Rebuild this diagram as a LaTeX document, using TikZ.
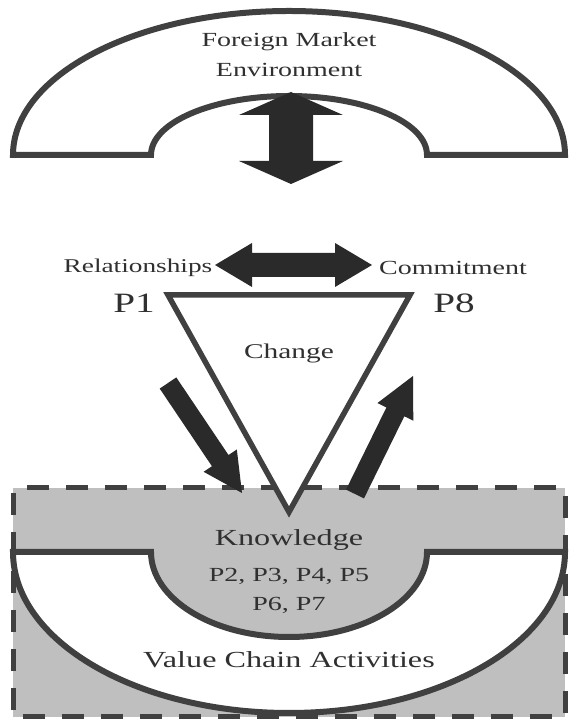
\documentclass[tikz,border=0pt]{standalone}
\usepackage{fontspec}
\usetikzlibrary{calc}
\newfontfamily\deco[FakeStretch=1.4]{Liberation Serif}

\definecolor{outline}{HTML}{404040}
\definecolor{arrowfill}{HTML}{2A2A2A}
\definecolor{panel}{HTML}{BFBFBF}
\definecolor{ink}{HTML}{303030}

% block arrow from tail #1 to tip #2: shaft half-width #3, head length #4, head half-width #5
\newcommand{\blockarrow}[5]{%
  \fill[arrowfill]
    ($(#1)!#3!90:(#2)$) --
    ($($(#2)!#4!(#1)$)!#3!-90:(#1)$) --
    ($($(#2)!#4!(#1)$)!#5!-90:(#1)$) --
    (#2) --
    ($($(#2)!#4!(#1)$)!#5!90:(#1)$) --
    ($($(#2)!#4!(#1)$)!#3!90:(#1)$) --
    ($(#1)!#3!-90:(#2)$) -- cycle;}

\tikzset{
  archline/.style={draw=outline, line width=6pt, line join=miter, fill=white},
  label/.style={font=\deco, text=ink, inner sep=0pt, anchor=center},
}

\begin{document}
\begin{tikzpicture}[x=1pt, y=1pt]
\useasboundingbox (0,0) rectangle (568,720);

% value chain panel
\path[fill=panel] (13,232) rectangle (565,3);
\draw[outline, line width=5pt, dash pattern=on 22pt off 17pt, dash phase=-14pt]
  (13,232) -- (565,232) -- (565,3) -- (13,3) -- cycle;

% lower arch (value chain activities)
\draw[archline] (13,168) arc[start angle=180, end angle=360, x radius=276, y radius=161]
  -- (427,168) arc[start angle=0, end angle=-180, x radius=138, y radius=85] -- cycle;

% upper arch (foreign market environment)
\draw[archline] (13,565) arc[start angle=180, end angle=0, x radius=276, y radius=144]
  -- (427,565) arc[start angle=0, end angle=180, x radius=138, y radius=59] -- cycle;

% change triangle
\draw[outline, line width=5.5pt, line join=miter, fill=white]
  (168,425) -- (410,425) -- (289,208) -- cycle;

% vertical double arrow between environment and firm
\fill[arrowfill] (291,628) -- (343,605) -- (313,605) -- (313,559) -- (343,559)
  -- (291,536) -- (239,559) -- (269,559) -- (269,605) -- (239,605) -- cycle;

% horizontal double arrow between relationships and commitment
\fill[arrowfill] (215,455) -- (252,477) -- (252,467) -- (335,467) -- (335,477)
  -- (372,455) -- (335,433) -- (335,443) -- (252,443) -- (252,433) -- cycle;

% diagonal arrows into and out of knowledge
\coordinate (inTail) at (168,337);
\coordinate (inTip) at (242,227);
\coordinate (outTail) at (355,226);
\coordinate (outTip) at (413,344);
\blockarrow{inTail}{inTip}{10pt}{39pt}{20pt}
\blockarrow{outTail}{outTip}{10pt}{40pt}{20pt}

% labels
\node[label, font=\deco\fontsize{20}{22}\selectfont] (fme1) at (289,678) {Foreign Market};
\node[label, font=\deco\fontsize{20}{22}\selectfont] (fme2) at (289,650) {Environment};
\node[label, font=\deco\fontsize{19.5}{22}\selectfont] (rel) at (138,452) {Relationships};
\node[label, font=\deco\fontsize{20}{22}\selectfont] (com) at (453,452) {Commitment};
\node[label, font=\deco\fontsize{28}{30}\selectfont] (p1) at (134,417) {P1};
\node[label, font=\deco\fontsize{28}{30}\selectfont] (p8) at (454,417) {P8};
\node[label, font=\deco\fontsize{21}{24}\selectfont] (chg) at (289,367) {Change};
\node[label, font=\deco\fontsize{23}{26}\selectfont] (know) at (289,180) {Knowledge};
\node[label, font=\deco\fontsize{20}{24}\selectfont] (pk1) at (289,144) {P2, P3, P4, P5};
\node[label, font=\deco\fontsize{20}{24}\selectfont] (pk2) at (289,115) {P6, P7};
\node[label, font=\deco\fontsize{23}{26}\selectfont] (vca) at (289,60) {Value Chain Activities};
\end{tikzpicture}
\end{document}
